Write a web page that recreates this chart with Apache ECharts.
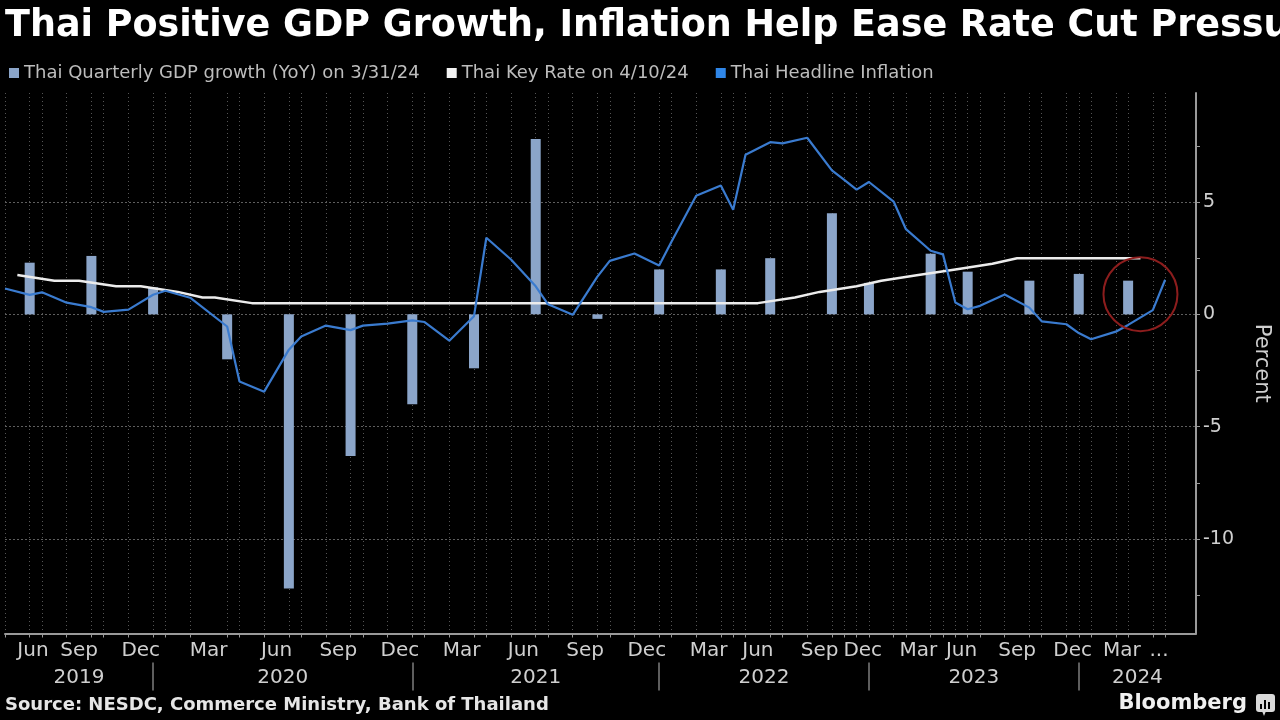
<!DOCTYPE html>
<html>
<head>
<meta charset="utf-8">
<script src="https://cdn.jsdelivr.net/npm/echarts@6/dist/echarts.min.js"></script>
<style>
html,body{margin:0;padding:0;background:#000;}
#chart{width:1280px;height:720px;}
</style>
</head>
<body>
<div id="chart"></div>
<script>
// ---------------- DATA ----------------
const titleText = 'Thai Positive GDP Growth, Inflation Help Ease Rate Cut Pressure';
const sourceText = 'Source: NESDC, Commerce Ministry, Bank of Thailand';
const seriesNames = ['Thai Quarterly GDP growth (YoY) on 3/31/24', 'Thai Key Rate on 4/10/24', 'Thai Headline Inflation'];

// Quarterly GDP growth (YoY, %)
const gdpDates = ['2019-06-30','2019-09-30','2019-12-31','2020-03-31','2020-06-30','2020-09-30','2020-12-31',
  '2021-03-31','2021-06-30','2021-09-30','2021-12-31','2022-03-31','2022-06-30','2022-09-30','2022-12-31',
  '2023-03-31','2023-06-30','2023-09-30','2023-12-31','2024-03-31'];
const gdpValues = [2.3, 2.6, 1.2, -2.0, -12.2, -6.3, -4.0, -2.4, 7.8, -0.2, 2.0, 2.0, 2.5, 4.5, 1.4, 2.7, 1.9, 1.5, 1.8, 1.5];

// Monthly headline inflation (YoY, %)
const inflationDates = [
  '2019-05-31','2019-06-30','2019-07-31','2019-08-31','2019-09-30','2019-10-31','2019-11-30','2019-12-31',
  '2020-01-31','2020-02-29','2020-03-31','2020-04-30','2020-05-31','2020-06-30','2020-07-31','2020-08-31','2020-09-30','2020-10-31','2020-11-30','2020-12-31',
  '2021-01-31','2021-02-28','2021-03-31','2021-04-30','2021-05-31','2021-06-30','2021-07-31','2021-08-31','2021-09-30','2021-10-31','2021-11-30','2021-12-31',
  '2022-01-31','2022-02-28','2022-03-31','2022-04-30','2022-05-31','2022-06-30','2022-07-31','2022-08-31','2022-09-30','2022-10-31','2022-11-30','2022-12-31',
  '2023-01-31','2023-02-28','2023-03-31','2023-04-30','2023-05-31','2023-06-30','2023-07-31','2023-08-31','2023-09-30','2023-10-31','2023-11-30','2023-12-31',
  '2024-01-31','2024-02-29','2024-03-31','2024-04-30','2024-05-31'];
const inflationValues = [
  1.15, 0.87, 0.98, 0.52, 0.32, 0.11, 0.21, 0.87,
  1.05, 0.74, -0.54, -2.99, -3.44, -1.57, -0.98, -0.50, -0.70, -0.50, -0.41, -0.27,
  -0.34, -1.17, -0.08, 3.41, 2.44, 1.25, 0.45, -0.02, 1.68, 2.38, 2.71, 2.17,
  3.23, 5.28, 5.73, 4.65, 7.10, 7.66, 7.61, 7.86, 6.41, 5.98, 5.55, 5.89,
  5.02, 3.79, 2.83, 2.67, 0.53, 0.23, 0.38, 0.88, 0.30, -0.31, -0.44, -0.83,
  -1.11, -0.77, -0.47, 0.19, 1.54];

// Policy (key) rate at each decision date (%)
const rateDates = [
  '2019-06-26','2019-08-07','2019-09-25','2019-11-06','2019-12-18',
  '2020-02-05','2020-03-20','2020-03-25','2020-05-20','2020-06-24','2020-08-05','2020-09-23','2020-11-18','2020-12-23',
  '2021-02-03','2021-03-24','2021-05-05','2021-06-23','2021-08-04','2021-09-29','2021-11-10','2021-12-22',
  '2022-02-09','2022-03-30','2022-06-08','2022-08-10','2022-09-28','2022-11-30',
  '2023-01-25','2023-03-29','2023-05-31','2023-08-02','2023-09-27','2023-11-29',
  '2024-02-07','2024-04-10'];
const rateValues = [
  1.75, 1.50, 1.50, 1.25, 1.25,
  1.00, 0.75, 0.75, 0.50, 0.50, 0.50, 0.50, 0.50, 0.50,
  0.50, 0.50, 0.50, 0.50, 0.50, 0.50, 0.50, 0.50,
  0.50, 0.50, 0.50, 0.75, 1.00, 1.25,
  1.50, 1.75, 2.00, 2.25, 2.50, 2.50,
  2.50, 2.50];

// Tick labels
const monthTickLabels = [
  ['2019-06-30','Jun'],['2019-09-30','Sep'],['2019-12-31','Dec'],
  ['2020-03-31','Mar'],['2020-06-30','Jun'],['2020-09-30','Sep'],['2020-12-31','Dec'],
  ['2021-03-31','Mar'],['2021-06-30','Jun'],['2021-09-30','Sep'],['2021-12-31','Dec'],
  ['2022-03-31','Mar'],['2022-06-30','Jun'],['2022-09-30','Sep'],['2022-12-31','Dec'],
  ['2023-03-31','Mar'],['2023-06-30','Jun'],['2023-09-30','Sep'],['2023-12-31','Dec'],
  ['2024-03-31','Mar'],['2024-05-31','...']];
const yearTickLabels = ['2019','2020','2021','2022','2023','2024'];
const yTickLabels = [-10, -5, 0, 5];
const yAllTicks = [-12.5, -10, -7.5, -5, -2.5, 0, 2.5, 5, 7.5];
const yMin = -14.2, yMax = 9.85;

// ---------------- AXIS BUILD (Bloomberg-style observation axis) ----------------
const slots = Array.from(new Set([].concat(inflationDates, gdpDates, rateDates))).sort();
const slotIdx = {};
slots.forEach((d, i) => { slotIdx[d] = i; });
const xMax = slots.length - 1 + 2.5;

const monthEndTicks = inflationDates.map(d => slotIdx[d]);
const monthLabelMap = {};
const monthLabelPos = monthTickLabels.map(([d, t]) => {
  const k = inflationDates.indexOf(d);
  const p = (slotIdx[inflationDates[k - 1]] + slotIdx[d]) / 2;
  monthLabelMap[p.toFixed(2)] = t;
  return p;
});
const yearLabelMap = {};
const yearBoundaries = [];
const yearLabelPos = yearTickLabels.map((y, i) => {
  const start = i === 0 ? 0 : slotIdx[yearTickLabels[i - 1] + '-12-31'];
  const endIdx = slotIdx[y + '-12-31'];
  const end = endIdx === undefined ? xMax : endIdx;
  if (endIdx !== undefined) yearBoundaries.push(endIdx);
  const p = (start + end) / 2;
  yearLabelMap[p.toFixed(2)] = y;
  return p;
});

const toPairs = (dates, vals) => dates.map((d, i) => [slotIdx[d], vals[i]]);

// ---------------- CHART ----------------
const FONT = 'DejaVu Sans';
const chart = echarts.init(document.getElementById('chart'), null, {renderer: 'canvas'});
const option = {
  backgroundColor: '#000000',
  animation: false,
  title: {
    text: titleText, left: 5, top: 8, padding: 0,
    textStyle: {color: '#ffffff', fontFamily: FONT, fontWeight: 'bold', fontSize: 36.5}
  },
  legend: {
    left: 9, top: 64, padding: 0, itemWidth: 10, itemHeight: 10, itemGap: 27, icon: 'rect',
    textStyle: {color: '#bdbdbd', fontFamily: FONT, fontSize: 18},
    data: [
      {name: seriesNames[0], itemStyle: {color: '#8ba5c9'}},
      {name: seriesNames[1], itemStyle: {color: '#f2f2f2'}},
      {name: seriesNames[2], itemStyle: {color: '#2f86e8'}}
    ]
  },
  grid: {left: 5, right: 83, top: 93, bottom: 86.5, containLabel: false},
  xAxis: [
    {
      type: 'value', min: 0, max: xMax, position: 'bottom',
      axisLine: {show: true, onZero: false, lineStyle: {color: '#9a9a9a', width: 2}},
      axisTick: {show: true, customValues: monthEndTicks, length: 4, lineStyle: {color: '#9a9a9a', width: 1}},
      axisLabel: {
        customValues: monthLabelPos, formatter: v => monthLabelMap[Number(v).toFixed(2)] || '',
        color: '#cfcfcf', fontFamily: FONT, fontSize: 20, margin: 7, alignMinLabel: 'left'
      },
      splitLine: {show: true, lineStyle: {color: '#555555', type: [1, 3], width: 1}}
    },
    {
      type: 'value', min: 0, max: xMax, position: 'bottom', offset: 29,
      axisLine: {show: false, onZero: false},
      axisTick: {show: true, inside: false, customValues: yearBoundaries, length: 28, lineStyle: {color: '#7d7d7d', width: 1.5}},
      axisLabel: {
        customValues: yearLabelPos, formatter: v => yearLabelMap[Number(v).toFixed(2)] || '',
        color: '#cfcfcf', fontFamily: FONT, fontSize: 20, margin: 5
      },
      splitLine: {show: false}
    }
  ],
  yAxis: [
    {
      type: 'value', position: 'right', min: yMin, max: yMax,
      axisLine: {show: true, onZero: false, lineStyle: {color: '#9a9a9a', width: 2}},
      axisTick: {show: true, customValues: yAllTicks, length: 4, lineStyle: {color: '#9a9a9a'}},
      axisLabel: {customValues: yTickLabels, color: '#cfcfcf', fontFamily: FONT, fontSize: 19, margin: 7},
      splitLine: {show: false},
      name: 'Percent', nameLocation: 'middle', nameRotate: -90, nameGap: 55,
      nameTextStyle: {color: '#cfcfcf', fontFamily: FONT, fontSize: 21}
    },
    {
      // gridline-only helper axis (no line, ticks or labels drawn)
      type: 'value', position: 'left', min: yMin, max: yMax,
      axisLine: {show: false, onZero: false},
      axisTick: {show: false, customValues: yTickLabels},
      axisLabel: {show: false, customValues: yTickLabels},
      splitLine: {show: true, lineStyle: {color: '#5e5e5e', type: [2, 2], width: 1}}
    }
  ],
  series: [
    {
      name: seriesNames[0], type: 'bar', xAxisIndex: 0, yAxisIndex: 0,
      data: toPairs(gdpDates, gdpValues), barWidth: 10, z: 2,
      itemStyle: {color: '#8ba5c9'}
    },
    {
      name: seriesNames[1], type: 'line', xAxisIndex: 0, yAxisIndex: 0,
      data: toPairs(rateDates, rateValues), symbol: 'none', z: 3,
      lineStyle: {color: '#ececec', width: 2.5}, itemStyle: {color: '#f2f2f2'}
    },
    {
      name: seriesNames[2], type: 'line', xAxisIndex: 0, yAxisIndex: 0,
      data: toPairs(inflationDates, inflationValues), symbol: 'none', z: 4,
      lineStyle: {color: '#3a7bcf', width: 2.2}, itemStyle: {color: '#2f86e8'}
    }
  ]
};
chart.setOption(option);

// Annotation circle anchored to the latest data region
const c = chart.convertToPixel({xAxisIndex: 0, yAxisIndex: 0}, [slotIdx['2024-04-10'], 0.9]);
chart.setOption({
  graphic: [
    {type: 'circle', id: 'ring', shape: {cx: c[0], cy: c[1], r: 37}, style: {fill: 'none', stroke: '#8c1d1d', lineWidth: 2}, z: 10},
    {type: 'text', id: 'src', x: 5, y: 705, style: {text: sourceText, fill: '#e6e6e6', font: 'bold 18px "DejaVu Sans"', textVerticalAlign: 'middle', verticalAlign: 'middle'}},
    {type: 'text', id: 'bb', x: 1247, y: 704, style: {text: 'Bloomberg', fill: '#f0f0f0', font: 'bold 21px "DejaVu Sans"', textAlign: 'right', align: 'right', textVerticalAlign: 'middle', verticalAlign: 'middle'}},
    {type: 'rect', id: 'ic', shape: {x: 1256, y: 694, width: 19, height: 18, r: 3}, style: {fill: '#d9d9d9'}},
    {type: 'polygon', id: 'ict', shape: {points: [[1262, 711], [1266, 711], [1264, 716]]}, style: {fill: '#d9d9d9'}},
    {type: 'rect', id: 'ib1', shape: {x: 1260, y: 704, width: 2, height: 5}, style: {fill: '#000'}},
    {type: 'rect', id: 'ib2', shape: {x: 1264, y: 700, width: 2, height: 9}, style: {fill: '#000'}},
    {type: 'rect', id: 'ib3', shape: {x: 1268, y: 702, width: 2, height: 7}, style: {fill: '#000'}}
  ]
});
</script>
</body>
</html>
